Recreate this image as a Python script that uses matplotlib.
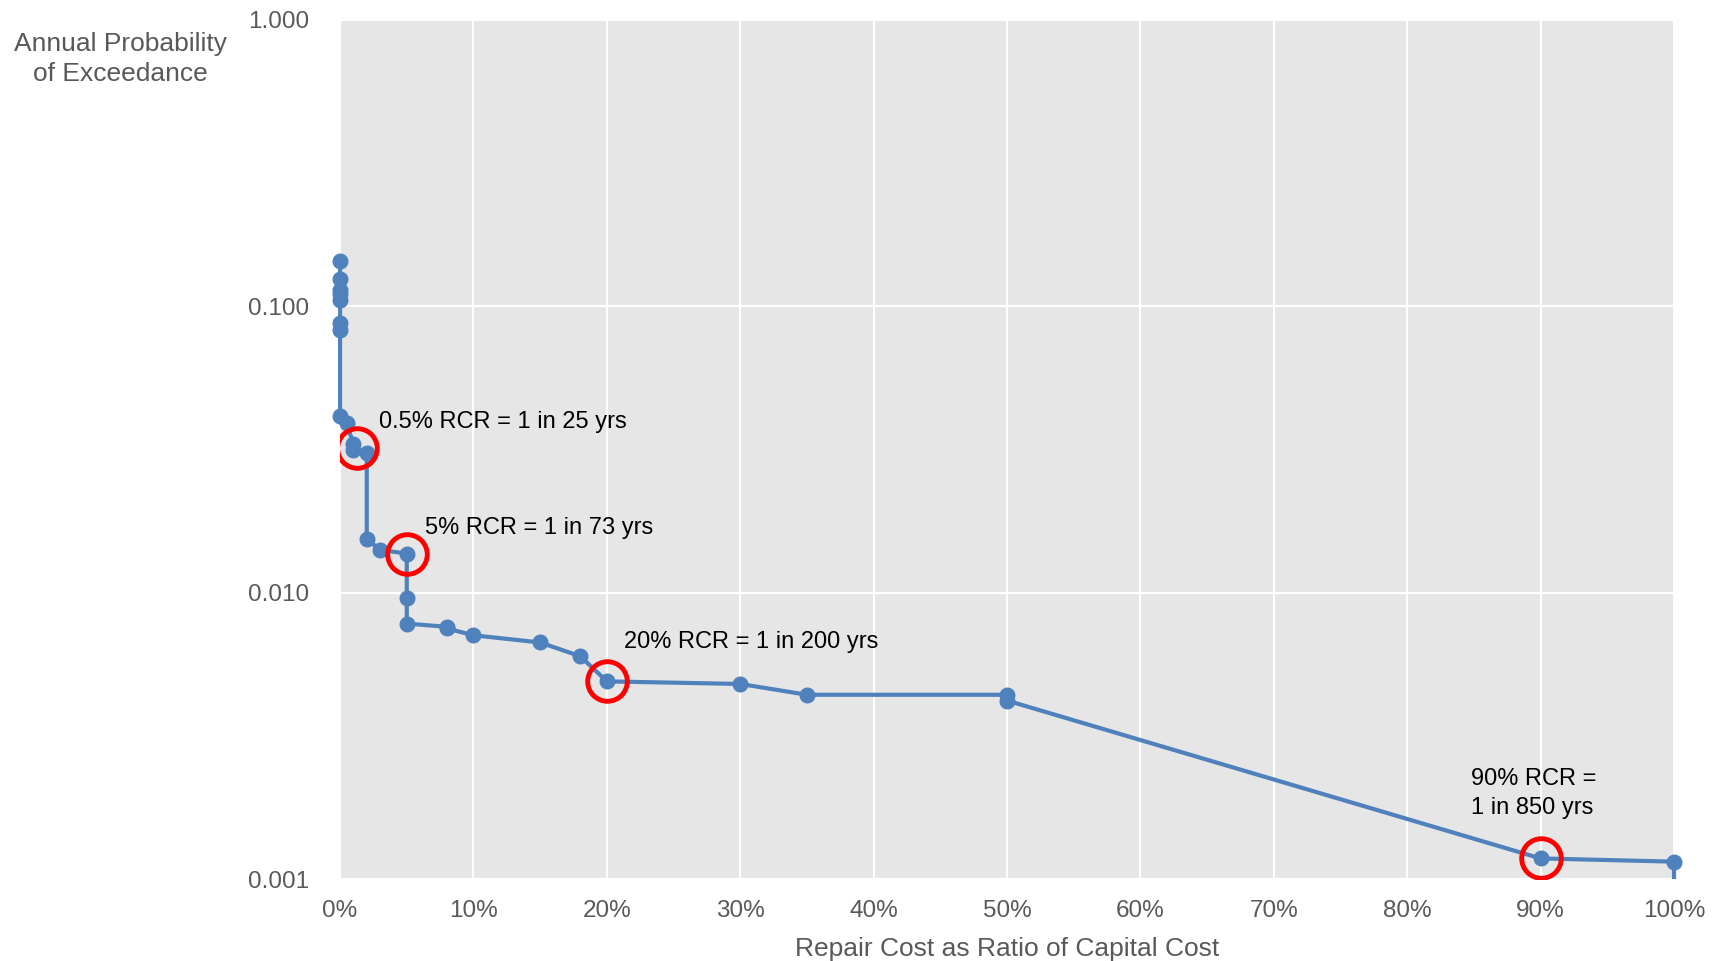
import numpy as np
import matplotlib.pyplot as plt
from matplotlib.patches import Rectangle
from matplotlib.ticker import FixedLocator, FuncFormatter, NullLocator

# exceedance curve, repair cost ratio (%) vs annual probability
rcr = [0, 0, 0, 0, 0, 0, 0, 0, 0.5, 1, 1, 2, 2, 3, 5, 5, 5, 8, 8, 10,
       15, 18, 20, 30, 35, 50, 50, 90, 100, 100]
prob = [0.144, 0.125, 0.114, 0.110, 0.105, 0.0877, 0.0826, 0.0415, 0.039,
        0.033, 0.0315, 0.0308, 0.0154, 0.0141, 0.0137, 0.0096, 0.0078,
        0.0076, 0.0075, 0.0071, 0.0067, 0.0060, 0.0049, 0.0048, 0.0044,
        0.0044, 0.0042, 0.00118, 0.00115, 0.0005]

# highlighted points and their notes
hi_rcr = [1.3, 5, 20, 90]
hi_prob = [0.032, 0.0137, 0.0049, 0.00118]
notes = ['0.5% RCR = 1 in 25 yrs', '5% RCR = 1 in 73 yrs',
         '20% RCR = 1 in 200 yrs', '90% RCR =\n1 in 850 yrs']
note_x = [2.9, 6.4, 21.3, 84.8]
note_y = [0.0396, 0.0168, 0.00672, 0.00199]

xticks = list(range(0, 101, 10))
yticks = [0.001, 0.01, 0.1, 1.0]

plt.rcParams['font.family'] = ['Liberation Sans', 'DejaVu Sans']
grey = '#595959'
blue = '#4F81BD'

fig = plt.figure(figsize=(17.21, 9.61), dpi=100)
ax = fig.add_axes([0.1976, 0.0853, 0.7751, 0.8939])
ax.set_facecolor('#E6E6E6')
for s in ax.spines.values():
    s.set_visible(False)

curve, = ax.plot(rcr, prob, color=blue, lw=3, marker='o', ms=10.5, zorder=3)
# let markers on the left edge show whole, but cut the drop at the bottom
clip = Rectangle((-0.03, 0), 1.06, 1.03, transform=ax.transAxes,
                 facecolor='none', edgecolor='none')
ax.add_patch(clip)
curve.set_clip_path(clip)

ax.plot(hi_rcr, hi_prob, ls='none', marker='o', ms=28.5, mfc='none',
        mec='#FF0000', mew=3.5, zorder=4)
for t, x, y in zip(notes, note_x, note_y):
    ax.text(x, y, t, fontsize=17, color='black', ha='left', va='center',
            linespacing=1.45, zorder=5)

ax.set_yscale('log')
ax.set_xlim(0, 100)
ax.set_ylim(0.001, 1.0)
ax.xaxis.set_major_locator(FixedLocator(xticks))
ax.yaxis.set_major_locator(FixedLocator(yticks))
ax.yaxis.set_minor_locator(NullLocator())
ax.xaxis.set_major_formatter(FuncFormatter(lambda v, p: '%d%%' % round(v)))
ax.yaxis.set_major_formatter(FuncFormatter(lambda v, p: '%.3f' % v))
ax.tick_params(axis='both', length=0, labelsize=17.5, labelcolor=grey)
ax.tick_params(axis='x', pad=15)
ax.tick_params(axis='y', pad=22)
ax.grid(True, color='white', lw=1.5, zorder=0)
ax.set_axisbelow(True)

ax.set_xlabel('Repair Cost as Ratio of Capital Cost', fontsize=19,
              color=grey, labelpad=11)
fig.text(120 / 1721, 1 - 59 / 961, 'Annual Probability\nof Exceedance',
         fontsize=19, color=grey, ha='center', va='center', linespacing=1.35)

plt.savefig('out.png', dpi=100)
